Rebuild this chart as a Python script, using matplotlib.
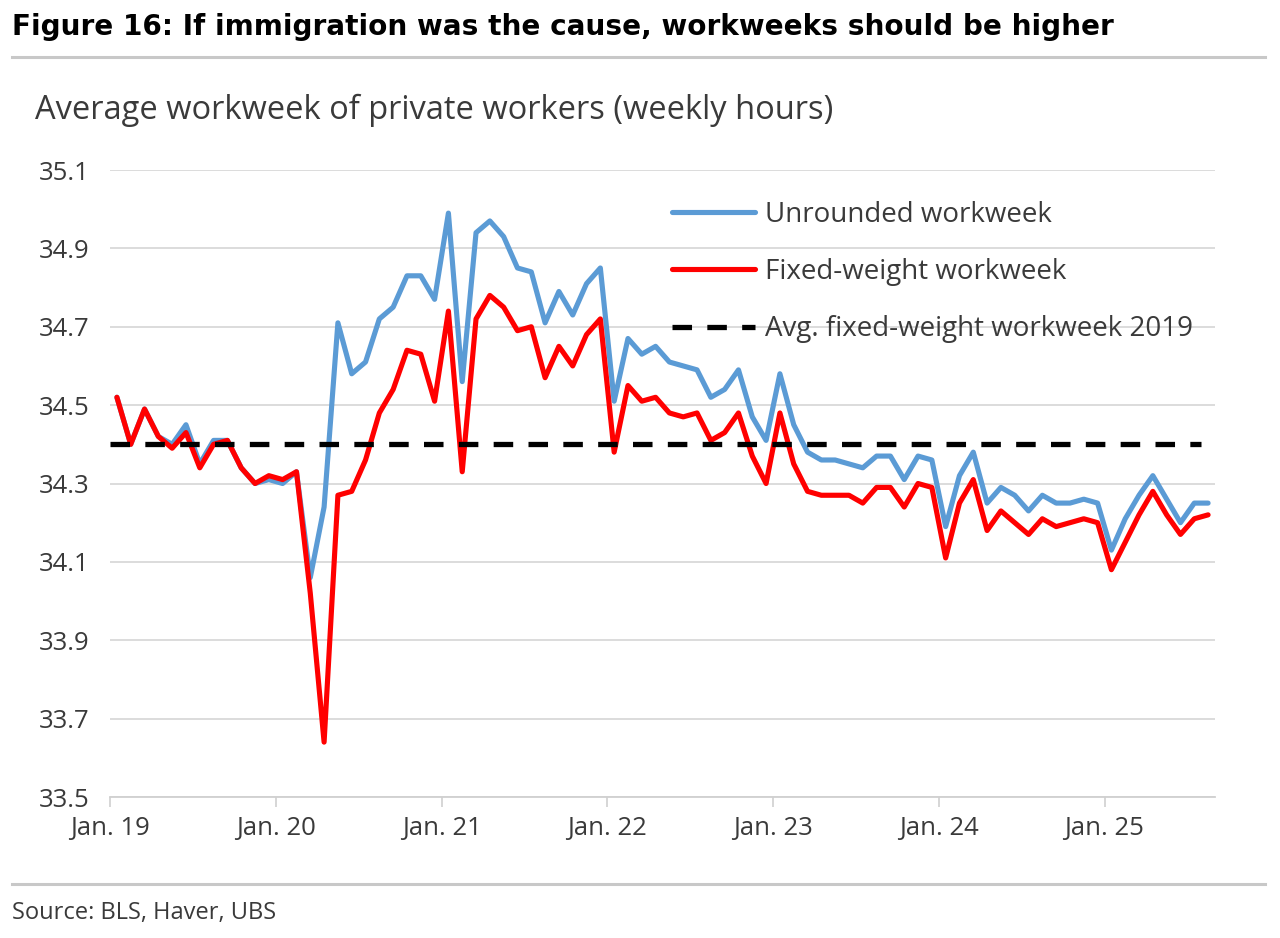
import numpy as np
import matplotlib
matplotlib.use("Agg")
import matplotlib.pyplot as plt

# ---------------- data (monthly, Jan 2019 - Aug 2025) ----------------
unrounded = [
    34.52, 34.40, 34.49, 34.42, 34.40, 34.45, 34.35, 34.41, 34.41, 34.34, 34.30, 34.31,   # 2019
    34.30, 34.33, 34.06, 34.24, 34.71, 34.58, 34.61, 34.72, 34.75, 34.83, 34.83, 34.77,   # 2020
    34.99, 34.56, 34.94, 34.97, 34.93, 34.85, 34.84, 34.71, 34.79, 34.73, 34.81, 34.85,   # 2021
    34.51, 34.67, 34.63, 34.65, 34.61, 34.60, 34.59, 34.52, 34.54, 34.59, 34.47, 34.41,   # 2022
    34.58, 34.45, 34.38, 34.36, 34.36, 34.35, 34.34, 34.37, 34.37, 34.31, 34.37, 34.36,   # 2023
    34.19, 34.32, 34.38, 34.25, 34.29, 34.27, 34.23, 34.27, 34.25, 34.25, 34.26, 34.25,   # 2024
    34.13, 34.21, 34.27, 34.32, 34.26, 34.20, 34.25, 34.25,                               # 2025
]
fixed_weight = [
    34.52, 34.40, 34.49, 34.42, 34.39, 34.43, 34.34, 34.40, 34.41, 34.34, 34.30, 34.32,   # 2019
    34.31, 34.33, 34.02, 33.64, 34.27, 34.28, 34.36, 34.48, 34.54, 34.64, 34.63, 34.51,   # 2020
    34.74, 34.33, 34.72, 34.78, 34.75, 34.69, 34.70, 34.57, 34.65, 34.60, 34.68, 34.72,   # 2021
    34.38, 34.55, 34.51, 34.52, 34.48, 34.47, 34.48, 34.41, 34.43, 34.48, 34.37, 34.30,   # 2022
    34.48, 34.35, 34.28, 34.27, 34.27, 34.27, 34.25, 34.29, 34.29, 34.24, 34.30, 34.29,   # 2023
    34.11, 34.25, 34.31, 34.18, 34.23, 34.20, 34.17, 34.21, 34.19, 34.20, 34.21, 34.20,   # 2024
    34.08, 34.15, 34.22, 34.28, 34.22, 34.17, 34.21, 34.22,                               # 2025
]
avg_fixed_2019 = 34.4
tick_labels = ["Jan. 19", "Jan. 20", "Jan. 21", "Jan. 22", "Jan. 23", "Jan. 24", "Jan. 25"]
y_ticks = [33.5, 33.7, 33.9, 34.1, 34.3, 34.5, 34.7, 34.9, 35.1]

series_names = ["Unrounded workweek", "Fixed-weight workweek", "Avg. fixed-weight workweek 2019"]

# ---------------- figure ----------------
FONT = "Open Sans"
plt.rcParams["font.family"] = [FONT, "DejaVu Sans"]
TXT = "#3a3a3a"

fig = plt.figure(figsize=(12.8, 9.38), dpi=100)
W, H = 1280, 938
ax = fig.add_axes([110 / W, 1 - 797 / H, 1105 / W, 627 / H])

n = len(unrounded)
x = np.arange(n) + 0.5  # mid-month positions

ax.plot(x, unrounded, color="#5B9BD5", lw=3.7, solid_joinstyle="round",
        solid_capstyle="round", label=series_names[0], zorder=3)
ax.plot(x, fixed_weight, color="#FF0000", lw=3.7, solid_joinstyle="round",
        solid_capstyle="round", label=series_names[1], zorder=4)
ax.plot([0, n - 1], [avg_fixed_2019, avg_fixed_2019], color="black", lw=3.8,
        linestyle=(0, (3.7, 2.9)), dash_capstyle="butt",
        label=series_names[2], zorder=5)

ax.set_xlim(0, n)
ax.set_ylim(33.5, 35.1)
ax.set_yticks(y_ticks)
ax.set_yticklabels([f"{v:.1f}" for v in y_ticks])
ax.set_xticks(np.arange(len(tick_labels)) * 12)
ax.set_xticklabels(tick_labels)

ax.grid(axis="y", color="#d9d9d9", lw=1.3, zorder=0)
for s in ["top", "right", "left"]:
    ax.spines[s].set_visible(False)
ax.spines["bottom"].set_color("#d0d0d0")
ax.spines["bottom"].set_linewidth(1.3)
ax.tick_params(axis="y", length=0, pad=15, labelsize=18.5, labelcolor=TXT)
ax.tick_params(axis="x", length=7, width=1.2, color="#d0d0d0", direction="out",
               pad=7, labelsize=18.5, labelcolor=TXT)

fs_leg = 20
fs_px = fs_leg / 0.72
leg = ax.legend(loc="upper left", bbox_to_anchor=((672 - 110) / 1105, (797 - 201) / 627),
                frameon=False, fontsize=fs_leg, handlelength=83 / fs_px,
                handletextpad=10 / fs_px, labelspacing=1.05, borderpad=0, borderaxespad=0)
for t in leg.get_texts():
    t.set_color(TXT)

# titles and frame lines
fig.text(12 / W, 1 - 27 / H, "Figure 16: If immigration was the cause, workweeks should be higher",
         fontsize=20.1, fontweight="bold", family=["DejaVu Sans"], color="black",
         va="center", ha="left")
fig.add_artist(plt.Line2D([12 / W, 1265 / W], [1 - 57 / H, 1 - 57 / H],
                          color="#c8c8c8", lw=2.2, transform=fig.transFigure))
fig.text(35 / W, 1 - 110 / H, "Average workweek of private workers (weekly hours)",
         fontsize=23.5, color=TXT, va="center", ha="left")
fig.add_artist(plt.Line2D([12 / W, 1265 / W], [1 - 884 / H, 1 - 884 / H],
                          color="#c8c8c8", lw=2.2, transform=fig.transFigure))
fig.text(12 / W, 1 - 913 / H, "Source: BLS, Haver, UBS", fontsize=17, color=TXT,
         va="center", ha="left")

fig.savefig("out.png", dpi=100, facecolor="white")
